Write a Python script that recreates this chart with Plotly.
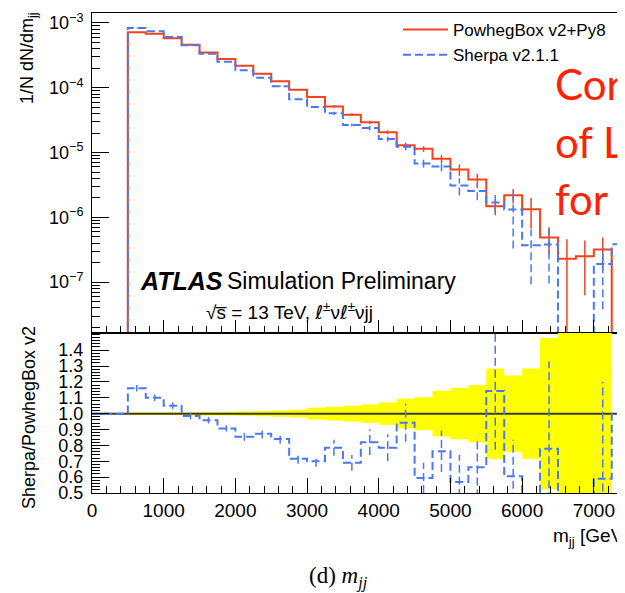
import numpy as np
import plotly.graph_objects as go

# ---------------- data ----------------
bin_lo = list(range(500, 7250, 250))          # lower edges of the 27 Powheg bins
bin_width = 250

powheg = [7.2e-4, 6.8e-4, 5.8e-4, 4.6e-4, 3.5e-4, 2.77e-4, 2.19e-4, 1.64e-4, 1.26e-4,
          9.3e-5, 7.2e-5, 5.16e-5, 3.85e-5, 2.93e-5, 2.06e-5, 1.3e-5, 1.14e-5, 8.0e-6,
          5.47e-6, 3.84e-6, 1.49e-6, 2.19e-6, 1.33e-6, 4.87e-7, 2.3e-7, 2.5e-7, 3.2e-7]
powheg_err_rel = [0.01, 0.01, 0.01, 0.012, 0.013, 0.015, 0.017, 0.02, 0.022, 0.026, 0.035,
                  0.045, 0.05, 0.06, 0.07, 0.09, 0.1, 0.14, 0.2, 0.22, 0.28, 0.25, 0.5,
                  0.45, 1.0, 0.75, 0.53]

sherpa_lo = list(range(500, 7500, 250))       # Sherpa has one more bin (7250-7500)
sherpa = [8.35e-4, 7.48e-4, 6.09e-4, 4.53e-4, 3.35e-4, 2.51e-4, 1.87e-4, 1.43e-4, 1.06e-4,
          6.65e-5, 5.04e-5, 4.05e-5, 2.66e-5, 2.40e-5, 1.62e-5, 1.23e-5, 6.8e-6, 6.1e-6,
          3.1e-6, 2.55e-6, 1.70e-6, 1.32e-6, 3.7e-7, 3.8e-7, 0.0, 0.0, 1.9e-7, 3.85e-7]
sherpa_err_rel = [0.012, 0.012, 0.013, 0.014, 0.015, 0.017, 0.02, 0.022, 0.025, 0.03, 0.035,
                  0.05, 0.055, 0.08, 0.09, 0.12, 0.14, 0.16, 0.3, 0.28, 0.3, 0.75, 0.75,
                  0.75, 0.0, 0.0, 0.8, 0.5]

ratio = [1.16, 1.10, 1.05, 0.985, 0.958, 0.907, 0.854, 0.873, 0.84, 0.715, 0.70, 0.785,
         0.69, 0.82, 0.785, 0.943, 0.595, 0.763, 0.57, 0.662, 1.143, 0.605, 0.28, 0.778,
         0.0, 0.0, 0.59]
ratio_err = [0.02, 0.02, 0.02, 0.02, 0.02, 0.02, 0.025, 0.03, 0.03, 0.03, 0.035, 0.05, 0.05,
             0.08, 0.085, 0.12, 0.095, 0.13, 0.17, 0.19, 0.37, 0.23, 0.2, 0.55, 0.0, 0.0, 0.61]
band_half = [0.008, 0.008, 0.009, 0.01, 0.011, 0.012, 0.014, 0.016, 0.019, 0.024, 0.037,
             0.044, 0.05, 0.057, 0.07, 0.093, 0.104, 0.144, 0.161, 0.18, 0.285, 0.24,
             0.285, 0.477, 1.0, 1.0, 1.0]

log_ticks_y = [1e-7, 1e-6, 1e-5, 1e-4, 1e-3]
log_tick_text = ["10<sup>−7</sup>", "10<sup>−6</sup>", "10<sup>−5</sup>",
                 "10<sup>−4</sup>", "10<sup>−3</sup>"]
ratio_ticks = [0.5, 0.6, 0.7, 0.8, 0.9, 1.0, 1.1, 1.2, 1.3, 1.4]
x_ticks = [0, 1000, 2000, 3000, 4000, 5000, 6000, 7000]

RED = "#f4421f"
BLUE = "#4a78f2"
FONT = "Liberation Sans"
TINY = 1e-12

# ---------------- helpers ----------------
def step_xy(lo, vals, width, floor):
    """Points for an 'hv' step line that rises from `floor` and falls back to it."""
    xs = [lo[0]] + list(lo) + [lo[-1] + width]
    ys = [floor] + [v if v > 0 else floor for v in vals] + [floor]
    return xs, ys

def err_segments(lo, vals, rel, width, log):
    xs, ys = [], []
    for l, v, r in zip(lo, vals, rel):
        if v <= 0 or r <= 0:
            continue
        c = l + width / 2
        lo_v = v * (1 - r) if log else v - r
        hi_v = v * (1 + r) if log else v + r
        if log and lo_v <= 0:
            lo_v = TINY
        xs += [c, c, None]
        ys += [lo_v, hi_v, None]
    return xs, ys

fig = go.Figure()

# ---------------- top panel ----------------
px, py = step_xy(bin_lo, powheg, bin_width, TINY)
fig.add_trace(go.Scatter(x=px, y=py, mode="lines", line=dict(color=RED, width=2, shape="hv"),
                         name="PowhegBox v2+Py8", xaxis="x", yaxis="y"))
ex, ey = err_segments(bin_lo, powheg, powheg_err_rel, bin_width, True)
fig.add_trace(go.Scatter(x=ex, y=ey, mode="lines", line=dict(color=RED, width=1.5),
                         showlegend=False, xaxis="x", yaxis="y", hoverinfo="skip"))

sx, sy = step_xy(sherpa_lo, sherpa, bin_width, TINY)
fig.add_trace(go.Scatter(x=sx, y=sy, mode="lines",
                         line=dict(color=BLUE, width=2, shape="hv", dash="8px,4px"),
                         name="Sherpa v2.1.1", xaxis="x", yaxis="y"))
ex, ey = err_segments(sherpa_lo, sherpa, sherpa_err_rel, bin_width, True)
fig.add_trace(go.Scatter(x=ex, y=ey, mode="lines", line=dict(color=BLUE, width=1.5, dash="8px,4px"),
                         showlegend=False, xaxis="x", yaxis="y", hoverinfo="skip"))

# ---------------- ratio panel ----------------
edges = bin_lo + [bin_lo[-1] + bin_width]
up = [1 + b for b in band_half]
dn = [1 - b for b in band_half]
fig.add_trace(go.Scatter(x=edges, y=up + [up[-1]], mode="lines", line=dict(width=0, shape="hv"),
                         showlegend=False, xaxis="x2", yaxis="y2", hoverinfo="skip"))
fig.add_trace(go.Scatter(x=edges, y=dn + [dn[-1]], mode="lines", line=dict(width=0, shape="hv"),
                         fill="tonexty", fillcolor="#ffff00",
                         showlegend=False, xaxis="x2", yaxis="y2", hoverinfo="skip"))
fig.add_trace(go.Scatter(x=[0, 8000], y=[1, 1], mode="lines", line=dict(color="#3d3d25", width=2),
                         showlegend=False, xaxis="x2", yaxis="y2", hoverinfo="skip"))

rx = [0] + list(bin_lo) + [bin_lo[-1] + bin_width, 8000]
ry = [1.0] + [r if r > 0 else -1.0 for r in ratio] + [1.0, 1.0]
fig.add_trace(go.Scatter(x=rx, y=ry, mode="lines",
                         line=dict(color=BLUE, width=2, shape="hv", dash="8px,4px"),
                         showlegend=False, xaxis="x2", yaxis="y2", hoverinfo="skip"))
ex, ey = err_segments(bin_lo, ratio, ratio_err, bin_width, False)
fig.add_trace(go.Scatter(x=ex, y=ey, mode="lines", line=dict(color=BLUE, width=1.5, dash="8px,4px"),
                         showlegend=False, xaxis="x2", yaxis="y2", hoverinfo="skip"))

# ---------------- layout ----------------
# The page body has an 8px margin, so the figure is drawn 8px smaller and
# everything below is specified in screenshot pixel coordinates.
PAGE_OFF = 8
W, H = 625 - PAGE_OFF, 593 - PAGE_OFF
PLOT_L, PLOT_T, PLOT_R, PLOT_B = 92, 13, 625, 493    # screenshot px
L, T = PLOT_L - PAGE_OFF, PLOT_T - PAGE_OFF
R, B = 0, H - (PLOT_B - PAGE_OFF)
pw, ph = PLOT_R - PLOT_L, PLOT_B - PLOT_T
split = 160 / ph

def px2x(p):
    return (p - PLOT_L) / pw

def px2y(p):
    return (PLOT_B - p) / ph

axis_common = dict(showline=True, linecolor="black", linewidth=1, showgrid=False,
                   zeroline=False, ticks="inside", tickcolor="black", tickwidth=1,
                   automargin=False)

fig.update_layout(
    width=W, height=H,
    margin=dict(l=L, r=R, t=T, b=B, autoexpand=False),
    plot_bgcolor="white", paper_bgcolor="white",
    font=dict(family=FONT, color="black", size=18),
    xaxis=dict(domain=[0, 1], anchor="y", range=[0, 7435], tickvals=x_ticks,
               showticklabels=False, ticklen=13, mirror=True,
               minor=dict(ticks="inside", dtick=200, tick0=0, ticklen=7, tickcolor="black"),
               **axis_common),
    xaxis2=dict(domain=[0, 1], anchor="y2", matches="x", range=[0, 7435], tickvals=x_ticks,
                ticktext=[str(v) for v in x_ticks], ticklen=15, mirror=True,
                tickfont=dict(size=19, family=FONT),
                minor=dict(ticks="inside", dtick=200, tick0=0, ticklen=7, tickcolor="black"),
                **axis_common),
    yaxis=dict(domain=[split, 1], anchor="x", type="log", range=[-7.785, -2.846],
               tickvals=log_ticks_y, ticktext=log_tick_text,
               tickfont=dict(size=18, family=FONT), ticklen=17, ticklabelstandoff=4,
               minor=dict(ticks="inside", ticklen=8, tickcolor="black", dtick="D1"),
               **axis_common),
    yaxis2=dict(domain=[0, split], anchor="x2", range=[0.5, 1.508], tickvals=ratio_ticks,
                ticktext=[f"{v:.1f}" for v in ratio_ticks], tickfont=dict(size=18, family=FONT),
                ticklen=17, ticklabelstandoff=4,
                minor=dict(ticks="inside", dtick=0.02, tick0=0.5, ticklen=8, tickcolor="black"),
                **axis_common),
    legend=dict(x=px2x(398), y=px2y(12), xanchor="left", yanchor="top",
                bgcolor="rgba(0,0,0,0)", font=dict(size=17, family=FONT),
                itemwidth=45, tracegroupgap=0, traceorder="normal"),
    showlegend=True,
)

ann = [
    dict(text="1/N dN/dm<sub>jj</sub>", x=px2x(28), y=px2y(58), textangle=-90,
         font=dict(size=18), xanchor="center", yanchor="middle"),
    dict(text="Sherpa/PowhegBox v2", x=px2x(29), y=px2y(418), textangle=-90,
         font=dict(size=18), xanchor="center", yanchor="middle"),
    dict(text="m<sub>jj</sub> [GeV]", x=px2x(551), y=px2y(537), font=dict(size=19),
         xanchor="left", yanchor="middle"),
    dict(text="<b><i>ATLAS</i></b>", x=px2x(138), y=px2y(281), font=dict(size=25),
         xanchor="left", yanchor="middle"),
    dict(text="Simulation Preliminary", x=px2x(225), y=px2y(281), font=dict(size=23),
         xanchor="left", yanchor="middle"),
    dict(text="√s\u0305 = 13 TeV, "
              "<span style='font-family:DejaVu Sans'><i>ℓ</i></span><sup>±</sup>ν"
              "<span style='font-family:DejaVu Sans'><i>ℓ</i></span><sup>±</sup>νjj",
         x=px2x(204), y=px2y(311), font=dict(size=19), xanchor="left", yanchor="middle"),
    dict(text="Cor", x=px2x(553), y=px2y(84), font=dict(size=42, family="Lato", color="#ff2200"),
         xanchor="left", yanchor="middle"),
    dict(text="of L", x=px2x(553), y=px2y(142), font=dict(size=42, family="Lato", color="#ff2200"),
         xanchor="left", yanchor="middle"),
    dict(text="for", x=px2x(553), y=px2y(199), font=dict(size=42, family="Lato", color="#ff2200"),
         xanchor="left", yanchor="middle"),
    dict(text="(d) <i>m<sub>jj</sub></i>", x=px2x(338), y=px2y(577),
         font=dict(size=23, family="Liberation Serif"), xanchor="center", yanchor="middle"),
]
for a in ann:
    a.update(xref="paper", yref="paper", showarrow=False)
fig.update_layout(annotations=ann)

fig.write_html("out.html")
